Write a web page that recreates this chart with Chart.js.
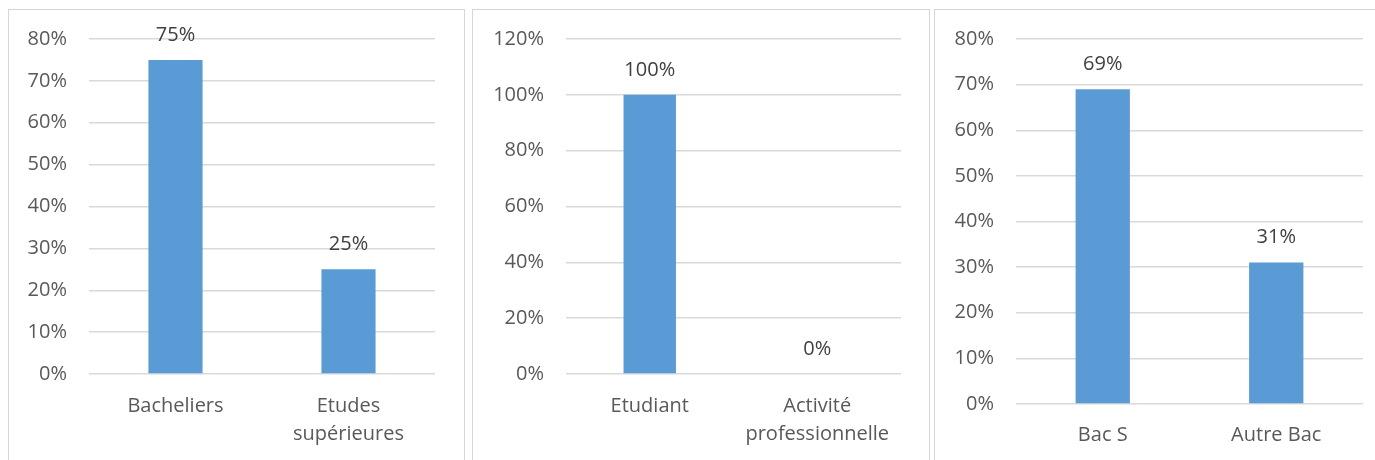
<!DOCTYPE html>
<html>
<head>
<meta charset="utf-8">
<script src="https://cdn.jsdelivr.net/npm/chart.js@4/dist/chart.umd.min.js"></script>
<style>
    body {
        margin: 0;
        background: #fff;
        width: 1375px;
        height: 460px;
        overflow: hidden;
        position: relative;
    }
    .frame {
        position: absolute;
        top: 9px;
        height: 470px;
        box-sizing: border-box;
        border: 1px solid #d6d6d6;
    }
    .holder {
        position: absolute;
        top: 0;
        height: 460px;
    }
</style>
</head>
<body>

<div class="frame" style="left: 8px; width: 457px;"></div>
<div class="frame" style="left: 472px; width: 458px;"></div>
<div class="frame" style="left: 934px; width: 460px;"></div>

<div class="holder" style="left: 8px; width: 457px;"><canvas id="niveauChart"></canvas></div>
<div class="holder" style="left: 473px; width: 458px;"><canvas id="statutChart"></canvas></div>
<div class="holder" style="left: 934px; width: 441px;"><canvas id="bacChart"></canvas></div>

<script>
// data (percent)
const niveauLabels = ['Bacheliers', ['Etudes', 'supérieures']];
const niveauValues = [75, 25];
const niveauTicks = [0, 10, 20, 30, 40, 50, 60, 70, 80];

const statutLabels = ['Etudiant', ['Activité', 'professionnelle']];
const statutValues = [100, 0];
const statutTicks = [0, 20, 40, 60, 80, 100, 120];

const bacLabels = ['Bac S', 'Autre Bac'];
const bacValues = [69, 31];
const bacTicks = [0, 10, 20, 30, 40, 50, 60, 70, 80];

const font = { family: '"Open Sans", sans-serif', size: 20, lineHeight: 1.4 };

// percent labels above each bar
const valueLabels = {
    id: 'valueLabels',
    afterDatasetsDraw(chart) {
        const ctx = chart.ctx;
        const meta = chart.getDatasetMeta(0);
        ctx.save();
        ctx.font = '20px "Open Sans", sans-serif';
        ctx.fillStyle = '#404040';
        ctx.textAlign = 'center';
        ctx.textBaseline = 'middle';
        meta.data.forEach((bar, i) => {
            ctx.fillText(chart.data.datasets[0].data[i] + '%', bar.x, bar.y - 25);
        });
        ctx.restore();
    }
};

function makeChart(id, labels, values, ticks, padding, yWidth, xHeight, xPad) {
    return new Chart(id, {
        type: 'bar',
        data: {
            labels: labels,
            datasets: [{
                data: values,
                backgroundColor: '#5b9bd5',
                borderWidth: 0,
                categoryPercentage: 1,
                barPercentage: 0.313
            }]
        },
        options: {
            responsive: true,
            maintainAspectRatio: false,
            animation: false,
            events: [],
            layout: { padding: padding },
            plugins: {
                legend: { display: false },
                tooltip: { enabled: false }
            },
            scales: {
                x: {
                    grid: { display: false, drawTicks: false },
                    border: { display: false },
                    ticks: {
                        color: '#595959',
                        font: font,
                        padding: xPad,
                        maxRotation: 0,
                        autoSkip: false
                    },
                    afterFit(scale) { scale.height = xHeight; }
                },
                y: {
                    min: ticks[0],
                    max: ticks[ticks.length - 1],
                    grid: {
                        color: '#d9d9d9',
                        lineWidth: 1.5,
                        drawTicks: false
                    },
                    border: { display: false },
                    ticks: {
                        stepSize: ticks[1] - ticks[0],
                        color: '#595959',
                        font: font,
                        padding: 22,
                        callback: (v) => v + '%'
                    },
                    afterFit(scale) { scale.width = yWidth; }
                }
            }
        },
        plugins: [valueLabels]
    });
}

const niveauChart = makeChart('niveauChart', niveauLabels, niveauValues, niveauTicks,
    { left: 2, right: 30, top: 39, bottom: 0 }, 79, 86, 18);

const statutChart = makeChart('statutChart', statutLabels, statutValues, statutTicks,
    { left: 2, right: 30, top: 39, bottom: 0 }, 91, 86, 18);

const bacChart = makeChart('bacChart', bacLabels, bacValues, bacTicks,
    { left: 2, right: 12, top: 39, bottom: 0 }, 80, 56, 17);
</script>
</body>
</html>
